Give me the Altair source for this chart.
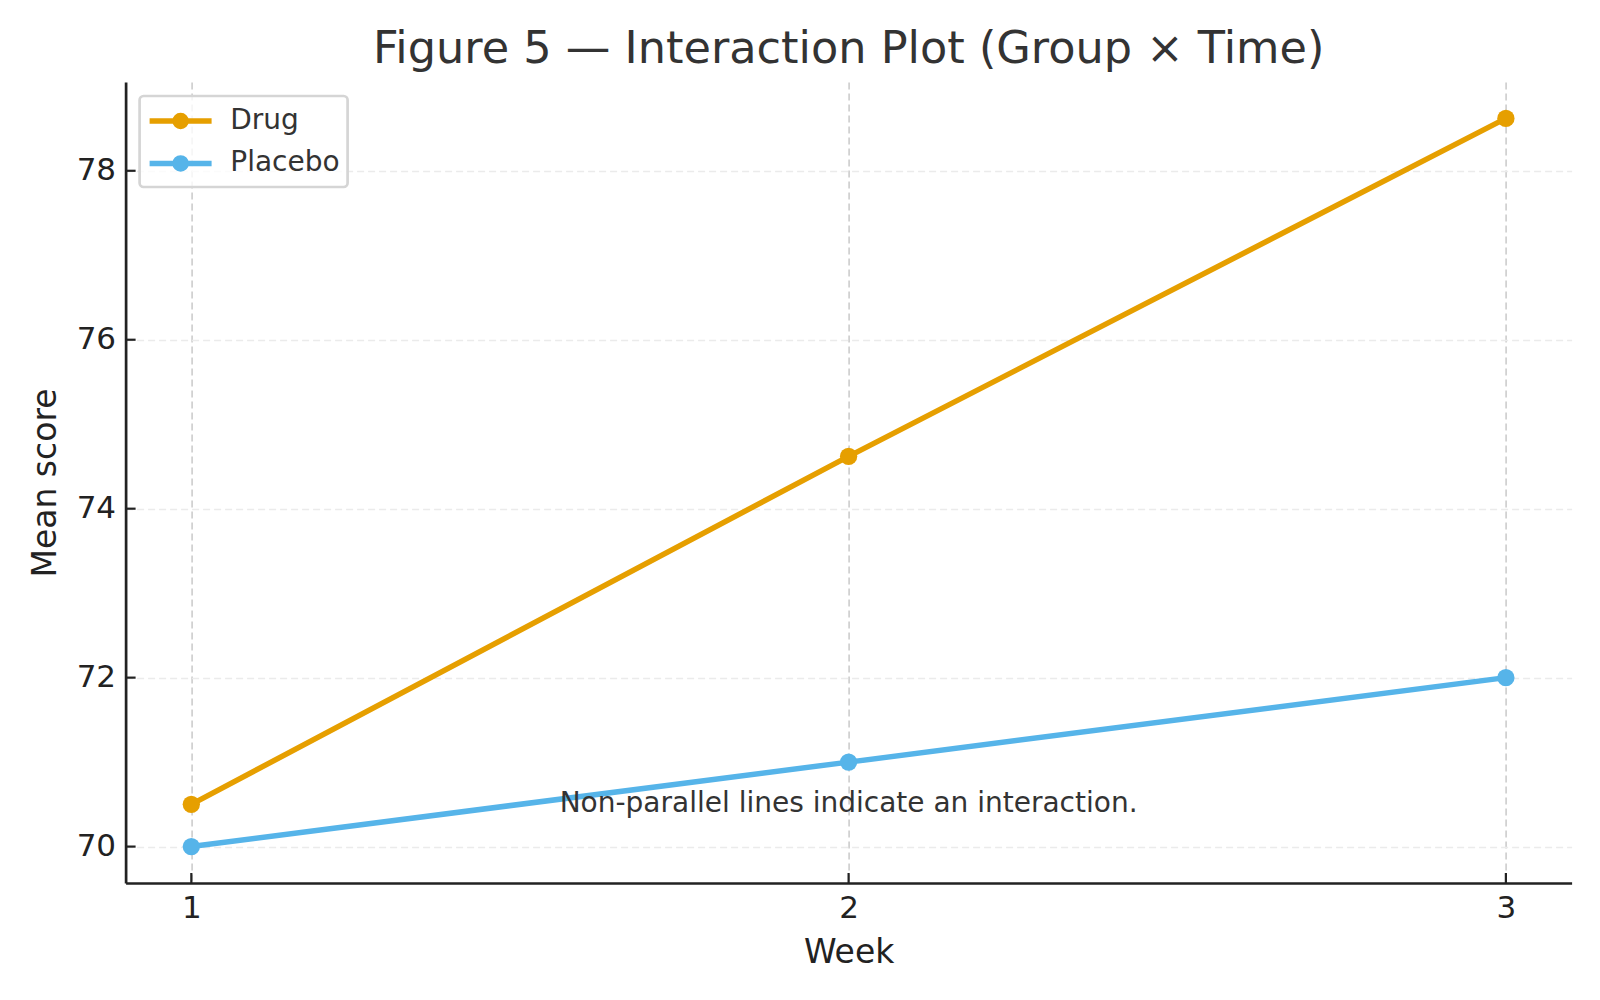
import altair as alt
import pandas as pd

# ---- data ----
weeks = [1, 2, 3]
drug_means = [70.5, 74.62, 78.62]
placebo_means = [70.0, 71.0, 72.0]
groups = ["Drug", "Placebo"]
group_colors = ["#E69F00", "#56B4E9"]
x_ticks = [1, 2, 3]
y_ticks = [70, 72, 74, 76, 78]
x_domain = [0.9, 3.1]
y_domain = [69.569, 79.051]
title_text = "Figure 5 \u2014 Interaction Plot (Group \u00d7 Time)"
note_text = ["Non-parallel lines indicate an interaction."]
note_x = [2]
note_y = [70.5]

rows = []
for g, vals in zip(groups, [drug_means, placebo_means]):
    for w, v in zip(weeks, vals):
        rows.append({"Week": w, "Score": v, "Group": g})
df = pd.DataFrame(rows)
note_df = pd.DataFrame({"Week": note_x, "Score": note_y, "label": note_text})

W, H = 1446, 801
FONT = "DejaVu Sans"

xs = alt.Scale(domain=x_domain, nice=False, zero=False)
ys = alt.Scale(domain=y_domain, nice=False, zero=False)
cs = alt.Scale(domain=groups, range=group_colors)

x_axis = alt.Axis(values=x_ticks, title="Week", format="d", grid=True,
                  gridColor="#cccccc", gridDash=[7, 4], gridWidth=1.6,
                  ticks=False, labelPadding=10, labelFontSize=31,
                  labelColor="#222222", labelFont=FONT, titleFont=FONT,
                  titleFontSize=33, titleFontWeight="normal", titleColor="#222222",
                  titleBaseline="alphabetic", titleY=79,
                  domainColor="#222222", domainWidth=2.7, labelFlush=False)
y_axis = alt.Axis(values=y_ticks, title="Mean score", format="d", grid=True,
                  gridColor="#ebebeb", gridDash=[7, 4], gridWidth=1.6,
                  ticks=False, labelPadding=10, labelFontSize=31,
                  labelColor="#222222", labelFont=FONT, titleFont=FONT,
                  titleFontSize=33, titleFontWeight="normal", titleColor="#222222",
                  titleAngle=-90, titleBaseline="alphabetic", titleAlign="center",
                  titleX=-70, titleY=H / 2,
                  domainColor="#222222", domainWidth=2.7, labelFlush=False)

# legend glyph: a line with a dot in the middle (concentric circles so a
# stroked-only symbol still reads as a solid dot)
def circ(cx, r):
    return (f"M{cx + r:.3f},0A{r:.3f},{r:.3f} 0 1,1 {cx - r:.3f},0"
            f"A{r:.3f},{r:.3f} 0 1,1 {cx + r:.3f},0Z")

PATH = "M-1,0L3.133,0" + circ(1.067, 0.367) + circ(1.067, 0.183)

legend = alt.Legend(title=None, orient="top-left", offset=14,
                    symbolType=PATH, symbolSize=900, symbolStrokeWidth=5.5,
                    symbolOpacity=1,
                    labelFontSize=28, labelFont=FONT, labelColor="#333333",
                    labelOffset=47.7, rowPadding=7.4, padding=7,
                    fillColor="rgba(255,255,255,0.8)", strokeColor="#d5d5d5",
                    cornerRadius=4)

X = alt.X("Week:Q", scale=xs, axis=x_axis)
Y = alt.Y("Score:Q", scale=ys, axis=y_axis)
C = alt.Color("Group:N", scale=cs, legend=legend)

lines = alt.Chart(df).mark_line(strokeWidth=5.5, strokeJoin="round").encode(
    x=X, y=Y, color=C, detail="Group:N",
)

points = alt.Chart(df).mark_point(filled=True, size=300, strokeWidth=0, opacity=1).encode(
    x=X, y=Y, color=C,
)

xticks = alt.Chart(pd.DataFrame({"Week": x_ticks})).mark_rule(
    color="#222222", strokeWidth=2.2).encode(
    x=X, y=alt.value(H), y2=alt.value(H - 10),
)
yticks = alt.Chart(pd.DataFrame({"Score": y_ticks})).mark_rule(
    color="#222222", strokeWidth=2.2).encode(
    y=Y, x=alt.value(0), x2=alt.value(10),
)

note = alt.Chart(note_df).mark_text(font=FONT, fontSize=28, color="#333333",
                                    align="center", baseline="middle").encode(
    x=X, y=Y, text="label:N",
)

chart = alt.layer(lines, points, xticks, yticks, note).properties(
    width=W, height=H,
    autosize=alt.AutoSizeParams(type="none"),
    padding={"left": 125.6, "top": 82, "right": 28.4, "bottom": 117},
    title=alt.TitleParams(title_text, fontSize=44.6, font=FONT, color="#333333",
                          fontWeight="normal", anchor="middle", frame="group",
                          baseline="alphabetic", offset=23, dy=49),
    background="white",
).configure_view(stroke=None).configure_legend(strokeWidth=2.7)

chart.save("out.html", embed_options={"renderer": "svg", "actions": False})
